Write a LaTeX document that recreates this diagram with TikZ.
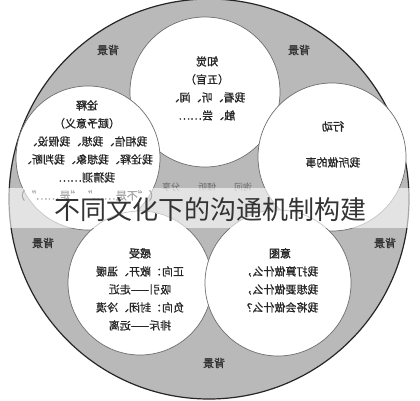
\documentclass[tikz,border=0pt]{standalone}
\usepackage{fontspec}
\usepackage{graphicx}
\setmainfont{Noto Sans CJK SC}
\newfontfamily\heavy{Noto Sans CJK SC}[FakeBold=0.8]
\newfontfamily\heavier{Noto Sans CJK SC}[FakeBold=2]
\definecolor{ringgray}{HTML}{B9B9B9}
\definecolor{edgegray}{HTML}{6E6E6E}
\newcommand\mirtxt[1]{\reflectbox{\heavy\fontsize{11}{18}\selectfont\begin{tabular}{@{}c@{}}#1\end{tabular}}}
\newcommand\mirone[1]{\reflectbox{#1}}
\begin{document}
\begin{tikzpicture}[x=1pt,y=-1pt,
  outer/.style={circle, inner sep=0pt, fill=ringgray, draw=black!85, line width=1.2pt, minimum size=#1},
  blob/.style={circle, inner sep=0pt, fill=white, draw=edgegray, line width=0.7pt, minimum size=#1},
  txt/.style={inner sep=0pt, text=black!85},
  bglabel/.style={inner sep=0pt, text=black!80, font=\heavier\fontsize{11}{11}\selectfont},
  small/.style={inner sep=0pt, text=black!60, font=\fontsize{9}{9}\selectfont},
  titlestyle/.style={inner sep=0pt, text=black!80, font=\fontsize{26}{26}\selectfont}]
\useasboundingbox (0,0) rectangle (420,400);
\fill[white] (0,0) rectangle (420,400);
% outer ring
\node[outer=400pt] (ring) at (209,199) {};
% inner circles
\node[blob=150pt] (zj) at (205,92) {};
\node[blob=144pt] (qs) at (88,158) {};
\node[blob=148pt] (xd) at (332,157) {};
\node[blob=144pt] (gs) at (140,283) {};
\node[blob=146pt] (yt) at (278,283) {};
% circle texts (mirrored as in the reference)
\node[txt] (tzj) at (207,89) {\mirtxt{{\heavier 知觉}\\（五官）\\我看、听、闻、\\触、尝……}};
\node[txt] (tqs) at (87,151) {\mirtxt{{\heavier 诠释}\\（赋予意义）\\我相信、我想、我假设、\\我诠释、我想象、我判断、\\我猜测……\\（“不是……”“是……”）}};
\node[txt] (txd) at (333,145) {\mirtxt{{\heavier 行动}\\[18pt]我所做的事}};
\node[txt] (tgs) at (140,290) {\mirtxt{{\heavier 感受}\\正向：敞开、温暖\\吸引——走近\\负向：封闭、冷漠\\排斥——远离}};
\node[txt] (tyt) at (280,281) {\mirtxt{{\heavier 意图}\\我打算做什么，\\我想要做什么，\\我将会做什么？}};
% small centre words
\node[small] (w1) at (171,187) {\mirone{分享}};
\node[small] (w2) at (207,187) {\mirone{倾听}};
\node[small] (w3) at (243,187) {\mirone{询问}};
% background labels
\node[bglabel] (b1) at (108,50) {\mirone{背景}};
\node[bglabel] (b2) at (299,50) {\mirone{背景}};
\node[bglabel] (b3) at (43,243) {\mirone{背景}};
\node[bglabel] (b4) at (385,243) {\mirone{背景}};
\node[bglabel] (b5) at (214,363) {\mirone{背景}};
% title band
\fill[white, opacity=0.6] (0,188) rectangle (420,228);
\node[titlestyle] (title) at (210,210) {不同文化下的沟通机制构建};
\end{tikzpicture}
\end{document}
